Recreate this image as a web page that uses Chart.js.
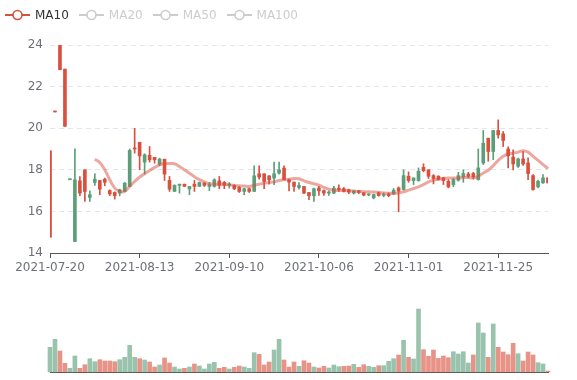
<!DOCTYPE html>
<html>
<head>
<meta charset="utf-8">
<script src="https://cdn.jsdelivr.net/npm/chart.js@4.4.1/dist/chart.umd.min.js"></script>
<style>
  html, body { margin: 0; padding: 0; background: #fff; }
  #wrap { position: relative; width: 577px; height: 380px; font-family: "DejaVu Sans", sans-serif; }
  #legend { position: absolute; left: 5px; top: 8px; display: flex; font-size: 12px; line-height: 14px; }
  .item { display: flex; align-items: center; margin-right: 10px; color: #ccc; }
  .item svg { margin-right: 5px; }
  .item.on { color: #333; }
  #kbox { position: absolute; left: 0; top: 0; }
  #vbox { position: absolute; left: 0; top: 280px; }
</style>
</head>
<body>
<div id="wrap">
  <canvas id="kline" width="577" height="280"></canvas>
  <canvas id="vol" width="577" height="100" style="position:absolute;left:0;top:280px"></canvas>
  <div id="legend"></div>
</div>
<script>
const dates = [
  '2021-07-20','2021-07-21','2021-07-22','2021-07-23','2021-07-26','2021-07-27','2021-07-28','2021-07-29','2021-07-30','2021-08-02',
  '2021-08-03','2021-08-04','2021-08-05','2021-08-06','2021-08-09','2021-08-10','2021-08-11','2021-08-12','2021-08-13','2021-08-16',
  '2021-08-17','2021-08-18','2021-08-19','2021-08-20','2021-08-23','2021-08-24','2021-08-25','2021-08-26','2021-08-27','2021-08-31',
  '2021-09-01','2021-09-02','2021-09-03','2021-09-07','2021-09-08','2021-09-09','2021-09-10','2021-09-13','2021-09-14','2021-09-15',
  '2021-09-16','2021-09-17','2021-09-20','2021-09-21','2021-09-22','2021-09-23','2021-09-24','2021-09-27','2021-09-28','2021-09-29',
  '2021-09-30','2021-10-01','2021-10-04','2021-10-05','2021-10-06','2021-10-07','2021-10-08','2021-10-11','2021-10-12','2021-10-13',
  '2021-10-14','2021-10-15','2021-10-18','2021-10-19','2021-10-20','2021-10-21','2021-10-22','2021-10-25','2021-10-26','2021-10-27',
  '2021-10-28','2021-10-29','2021-11-01','2021-11-02','2021-11-03','2021-11-04','2021-11-05','2021-11-08','2021-11-09','2021-11-10',
  '2021-11-11','2021-11-12','2021-11-15','2021-11-16','2021-11-17','2021-11-18','2021-11-19','2021-11-22','2021-11-23','2021-11-24',
  '2021-11-25','2021-11-26','2021-11-29','2021-11-30','2021-12-01','2021-12-02','2021-12-03','2021-12-06','2021-12-07','2021-12-08',
  '2021-12-09'
];

const opens = [
  14.76, 20.78, 22.81, 20.09, 17.56, 17.52, 16.88, 16.96, 16.80, 17.55,
  17.07, 17.40, 16.84, 16.76, 17.04, 17.36, 18.93, 19.00, 18.67, 18.72,
  18.48, 18.48, 18.51, 17.79, 17.07, 17.25, 17.31, 17.20, 17.20, 17.20,
  17.39, 17.25, 17.28, 17.52, 17.25, 17.25, 17.31, 17.09, 16.96, 17.09,
  16.96, 17.71, 17.65, 17.44, 17.52, 17.81, 18.00, 17.52, 17.41, 17.20,
  17.25, 16.88, 16.75, 17.09, 16.99, 16.88, 16.93, 17.12, 17.04, 16.96,
  16.93, 16.99, 16.91, 16.78, 16.82, 16.81, 16.76, 16.81, 16.76, 17.02,
  16.97, 17.72, 17.48, 17.61, 17.93, 17.96, 17.69, 17.58, 17.53, 17.48,
  17.18, 17.53, 17.72, 17.82, 17.69, 17.66, 18.09, 19.28, 18.88, 19.89,
  19.68, 19.41, 18.68, 18.28, 18.52, 18.28, 17.82, 17.05, 17.45, 17.61,
  17.37
];
const closes = [
  18.91, 20.82, 23.98, 22.84, 17.52, 14.55, 17.47, 18.00, 16.67, 17.39,
  17.49, 17.55, 17.00, 16.91, 16.88, 16.96, 17.20, 19.02, 19.32, 18.37,
  18.70, 18.60, 18.27, 18.51, 17.49, 16.96, 17.25, 17.31, 17.08, 17.31,
  17.20, 17.36, 17.20, 17.20, 17.47, 17.39, 17.25, 17.25, 17.15, 16.96,
  17.09, 16.96, 17.81, 17.81, 17.71, 17.60, 17.84, 18.08, 17.52, 17.41,
  17.15, 17.20, 16.91, 16.75, 17.12, 17.00, 16.88, 16.88, 17.12, 17.09,
  17.04, 16.88, 16.99, 16.89, 16.79, 16.65, 16.89, 16.77, 16.84, 16.86,
  17.13, 17.05, 17.69, 17.48, 17.48, 18.12, 18.00, 17.72, 17.69, 17.61,
  17.45, 17.29, 17.50, 17.66, 17.80, 17.82, 17.53, 18.33, 19.52, 18.88,
  19.89, 19.73, 19.00, 18.61, 18.17, 18.52, 18.33, 17.72, 17.18, 17.37,
  17.61
];
const highs = [
  18.91, 20.82, 23.98, 22.84, 17.56, 19.01, 17.68, 18.00, 16.99, 17.81,
  17.49, 17.60, 17.04, 16.94, 17.07, 17.39, 19.00, 19.99, 19.32, 18.77,
  19.12, 18.60, 18.56, 18.51, 17.68, 17.28, 17.31, 17.31, 17.20, 17.49,
  17.41, 17.39, 17.39, 17.57, 17.68, 17.44, 17.39, 17.28, 17.20, 17.12,
  17.12, 18.19, 18.19, 17.81, 17.71, 18.37, 18.37, 18.19, 17.55, 17.41,
  17.39, 17.20, 16.91, 17.12, 17.20, 17.04, 16.99, 17.20, 17.28, 17.15,
  17.07, 16.99, 17.01, 16.91, 16.85, 16.83, 16.93, 16.89, 16.89, 17.10,
  17.18, 18.00, 17.90, 17.61, 18.09, 18.29, 18.00, 17.77, 17.72, 17.64,
  17.53, 17.58, 17.88, 18.00, 17.88, 17.88, 19.00, 19.89, 19.52, 19.89,
  20.40, 19.84, 19.10, 18.96, 18.56, 18.88, 18.57, 17.77, 17.50, 17.77,
  17.61
];
const lows = [
  14.76, 20.78, 22.81, 20.09, 17.52, 14.55, 16.76, 16.48, 16.48, 17.25,
  16.80, 17.23, 16.76, 16.59, 16.75, 16.96, 17.20, 18.80, 18.00, 17.80,
  18.37, 18.32, 18.20, 17.49, 16.96, 16.96, 16.88, 17.20, 16.80, 16.96,
  17.20, 17.20, 17.00, 17.17, 17.09, 17.09, 17.12, 17.04, 16.91, 16.80,
  16.91, 16.96, 17.55, 17.09, 17.31, 17.28, 17.79, 17.52, 16.99, 16.96,
  17.07, 16.85, 16.56, 16.48, 16.77, 16.77, 16.77, 16.85, 16.96, 16.93,
  16.85, 16.83, 16.85, 16.75, 16.75, 16.60, 16.73, 16.70, 16.70, 16.81,
  15.98, 17.02, 17.40, 17.29, 17.45, 17.90, 17.58, 17.32, 17.50, 17.29,
  17.13, 17.18, 17.45, 17.40, 17.61, 17.56, 17.50, 18.25, 18.41, 18.49,
  19.52, 19.12, 18.09, 18.00, 18.12, 18.21, 17.53, 17.02, 17.13, 17.34,
  17.37
];
const ma10 = [
  null, null, null, null, null, null, null, null, null, 18.51,
  18.35, 18.00, 17.52, 17.12, 16.96, 16.96, 17.20, 17.44, 17.65, 17.81,
  17.97, 18.11, 18.24, 18.30, 18.30, 18.29, 18.16, 18.00, 17.83, 17.67,
  17.53, 17.42, 17.33, 17.31, 17.31, 17.31, 17.28, 17.25, 17.23, 17.22,
  17.20, 17.25, 17.31, 17.36, 17.39, 17.42, 17.49, 17.52, 17.55, 17.58,
  17.57, 17.47, 17.39, 17.33, 17.26, 17.15, 17.07, 17.02, 17.01, 17.01,
  16.99, 16.98, 16.96, 16.95, 16.94, 16.93, 16.91, 16.89, 16.87, 16.86,
  16.88, 16.94, 17.02, 17.10, 17.18, 17.29, 17.42, 17.50, 17.56, 17.59,
  17.61, 17.61, 17.61, 17.63, 17.63, 17.61, 17.69, 17.85, 17.98, 18.20,
  18.45, 18.65, 18.76, 18.80, 18.85, 18.92, 18.85, 18.65, 18.45, 18.25,
  18.06
];
// volume, and whether the volume bar is an up (1) or down (-1) day
const volumes = [
  24.7, 32.7, 21.0, 8.7, 3.7, 16.0, 3.7, 7.3, 13.3, 10.3,
  12.3, 11.0, 11.0, 10.3, 12.3, 14.7, 26.7, 14.7, 13.3, 12.0,
  10.0, 5.0, 7.0, 14.0, 9.0, 5.0, 3.0, 3.7, 5.0, 8.0,
  6.0, 3.0, 8.0, 9.7, 3.7, 4.7, 3.0, 4.7, 6.0, 5.0,
  3.7, 19.3, 17.7, 7.0, 10.0, 22.0, 32.7, 12.0, 5.0, 10.0,
  5.7, 11.3, 9.0, 5.0, 4.0, 5.7, 4.0, 7.0, 5.3, 5.7,
  6.0, 7.7, 4.7, 7.3, 5.7, 4.7, 6.3, 6.3, 10.7, 13.3,
  17.0, 31.7, 14.7, 13.0, 63.0, 22.3, 15.7, 22.0, 13.7, 16.0,
  14.3, 20.3, 18.0, 20.3, 9.0, 17.0, 49.0, 39.0, 14.7, 48.0,
  24.7, 20.0, 17.3, 28.7, 18.3, 11.0, 20.0, 17.0, 9.3, 8.0,
  1.0
];
const volSide = [
  -1, -1, 1, 1, -1, -1, 1, 1, -1, -1,
  1, 1, 1, 1, -1, -1, -1, -1, 1, -1,
  1, 1, -1, 1, 1, -1, -1, 1, -1, 1,
  -1, -1, -1, -1, 1, 1, -1, 1, 1, -1,
  -1, -1, 1, 1, 1, -1, -1, 1, 1, 1,
  -1, 1, 1, -1, 1, 1, -1, -1, -1, 1,
  1, -1, 1, 1, -1, -1, 1, -1, -1, -1,
  1, -1, 1, -1, -1, 1, 1, 1, 1, 1,
  1, -1, -1, -1, -1, 1, -1, -1, 1, -1,
  1, 1, 1, 1, -1, 1, 1, 1, -1, -1,
  1
];
const legendNames = ['MA10', 'MA20', 'MA50', 'MA100'];
const labelEvery = 18;

const UP = '#d9503f';
const DOWN = '#5b9e79';
const UP_VOL = 'rgba(217, 80, 63, 0.62)';
const DOWN_VOL = 'rgba(91, 158, 121, 0.62)';
const font = { family: '"DejaVu Sans", sans-serif', size: 12 };

// legend (only MA10 is switched on)
const legend = document.getElementById('legend');
legendNames.forEach((name, i) => {
  const c = i === 0 ? UP : '#ccc';
  const el = document.createElement('div');
  el.className = 'item' + (i === 0 ? ' on' : '');
  el.innerHTML = `<svg width="25" height="14"><line x1="0" y1="7" x2="25" y2="7" stroke="${c}" stroke-width="2"/>` +
    `<circle cx="12.5" cy="7" r="4.5" fill="#fff" stroke="${c}" stroke-width="1.6"/></svg><span>${name}</span>`;
  legend.appendChild(el);
});

const candleColor = dates.map((_, i) => closes[i] >= opens[i] ? UP : DOWN);

new Chart(document.getElementById('kline'), {
  type: 'bar',
  data: {
    labels: dates,
    datasets: [
      {
        type: 'line',
        label: 'MA10',
        data: ma10,
        borderColor: 'rgba(217, 80, 63, 0.5)',
        borderWidth: 3,
        pointRadius: 0,
        tension: 0.35,
        order: 0
      },
      {
        label: 'wick',
        data: dates.map((_, i) => [lows[i], highs[i]]),
        backgroundColor: candleColor,
        barThickness: 1,
        grouped: false,
        minBarLength: 1,
        order: 2
      },
      {
        label: 'body',
        data: dates.map((_, i) => [opens[i], closes[i]]),
        backgroundColor: candleColor,
        barThickness: 3,
        grouped: false,
        minBarLength: 1,
        order: 1
      }
    ]
  },
  options: {
    responsive: false,
    animation: false,
    layout: { padding: { left: 0, right: 29, top: 45, bottom: 0 } },
    plugins: { legend: { display: false }, tooltip: { enabled: false } },
    scales: {
      x: {
        offset: false,
        grid: {
          offset: false,
          drawOnChartArea: false,
          drawTicks: true,
          tickLength: 5,
          color: ctx => ctx.index % labelEvery === 0 ? '#555' : 'rgba(0,0,0,0)'
        },
        border: { display: true, color: '#555' },
        ticks: {
          autoSkip: false,
          maxRotation: 0,
          minRotation: 0,
          padding: 3,
          color: '#6E7079',
          font: font,
          callback: (v, i) => i % labelEvery === 0 ? dates[i] : ''
        },
        afterFit: s => { s.height = 27; }
      },
      y: {
        min: 14,
        max: 24,
        ticks: { stepSize: 2, padding: 7, color: '#6E7079', font: font },
        grid: { color: '#E0E6F1', drawTicks: false },
        border: { display: false, dash: [5, 4] },
        afterFit: s => { s.width = 50; }
      }
    }
  }
});

new Chart(document.getElementById('vol'), {
  type: 'bar',
  data: {
    labels: dates,
    datasets: [{
      label: 'Volume',
      data: volumes,
      backgroundColor: volSide.map(s => s > 0 ? UP_VOL : DOWN_VOL),
      barThickness: 4,
      clip: false
    }]
  },
  options: {
    responsive: false,
    animation: false,
    layout: { padding: { left: 50, right: 29, top: 20, bottom: 8 } },
    plugins: { legend: { display: false }, tooltip: { enabled: false } },
    scales: {
      x: {
        offset: false,
        grid: { display: false, offset: false },
        border: { display: true, color: '#555' },
        ticks: { display: false },
        afterFit: s => { s.height = 0; }
      },
      y: { display: false, min: 0, max: 72 }
    }
  }
});
</script>
</body>
</html>
